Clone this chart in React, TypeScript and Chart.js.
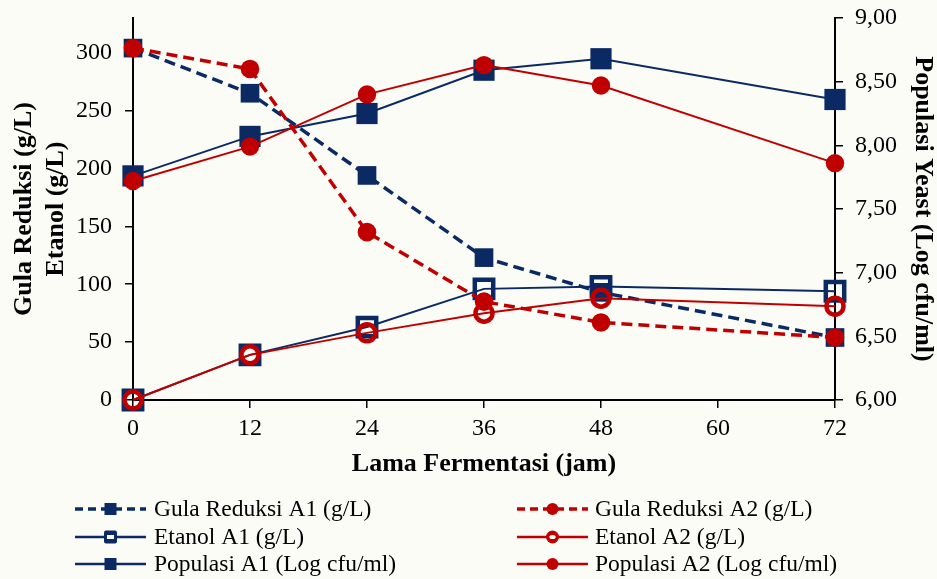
import React, { useEffect, useRef } from 'react';
import { Chart, registerables } from 'chart.js';

Chart.register(...registerables);

// ---- data ----
const hours = [0, 12, 24, 36, 48, 72];
const gulaReduksiA1 = [304, 265, 194, 123, 93, 54];
const gulaReduksiA2 = [304, 286, 145, 85, 67, 54];
const etanolA1 = [0, 39, 63, 96, 98, 94];
const etanolA2 = [0, 39, 58, 75, 88, 81];
const populasiA1 = [7.76, 8.07, 8.25, 8.59, 8.68, 8.36];
const populasiA2 = [7.72, 7.99, 8.4, 8.63, 8.47, 7.86];

const xTickValues = [0, 12, 24, 36, 48, 60, 72];
const leftTickValues = [0, 50, 100, 150, 200, 250, 300];
const rightTickValues = [6, 6.5, 7, 7.5, 8, 8.5, 9];

const seriesLabels = [
  'Gula Reduksi A1 (g/L)',
  'Etanol A1 (g/L)',
  'Populasi A1 (Log cfu/ml)',
  'Gula Reduksi A2 (g/L)',
  'Etanol A2 (g/L)',
  'Populasi A2 (Log cfu/ml)',
];
const xTitle = 'Lama Fermentasi (jam)';
const leftTitle = ['Gula Reduksi (g/L)', 'Etanol (g/L)'];
const rightTitle = 'Populasi Yeast (Log cfu/ml)';

// ---- styles ----
const BLUE = '#0B2A64';
const RED = '#C00000';
const BG = '#FCFCF7';
const FONT = '"Liberation Serif", "Times New Roman", serif';

const pts = (ys: number[]) => hours.map((h, i) => ({ x: h, y: ys[i] }));

type MarkerType = 'square' | 'hollowSquare' | 'circle' | 'hollowCircle';
const legendSpec: { color: string; dashed: boolean; marker: MarkerType }[] = [
  { color: BLUE, dashed: true, marker: 'square' },
  { color: BLUE, dashed: false, marker: 'hollowSquare' },
  { color: BLUE, dashed: false, marker: 'square' },
  { color: RED, dashed: true, marker: 'circle' },
  { color: RED, dashed: false, marker: 'hollowCircle' },
  { color: RED, dashed: false, marker: 'circle' },
];

function drawLegendMarker(ctx: CanvasRenderingContext2D, type: MarkerType, x: number, y: number, color: string) {
  ctx.save();
  ctx.setLineDash([]);
  ctx.fillStyle = color;
  ctx.strokeStyle = color;
  if (type === 'square') {
    ctx.fillRect(x - 6, y - 6, 12, 12);
  } else if (type === 'hollowSquare') {
    ctx.beginPath();
    const s = 13;
    const r = 2;
    const l = x - s / 2;
    const t = y - s / 2;
    ctx.moveTo(l + r, t);
    ctx.arcTo(l + s, t, l + s, t + s, r);
    ctx.arcTo(l + s, t + s, l, t + s, r);
    ctx.arcTo(l, t + s, l, t, r);
    ctx.arcTo(l, t, l + s, t, r);
    ctx.closePath();
    ctx.fill();
    ctx.fillStyle = BG;
    ctx.fillRect(x - 3.5, y - 2, 7, 4);
  } else if (type === 'circle') {
    ctx.beginPath();
    ctx.arc(x, y, 6, 0, Math.PI * 2);
    ctx.fill();
  } else {
    ctx.beginPath();
    ctx.arc(x, y, 6.5, 0, Math.PI * 2);
    ctx.fill();
    ctx.fillStyle = BG;
    ctx.beginPath();
    ctx.ellipse(x, y, 3.2, 2, 0, 0, Math.PI * 2);
    ctx.fill();
  }
  ctx.restore();
}

const backgroundPlugin = {
  id: 'bg',
  beforeDraw(chart: any) {
    const { ctx, width, height } = chart;
    ctx.save();
    ctx.fillStyle = BG;
    ctx.fillRect(0, 0, width, height);
    ctx.restore();
  },
};

const legendPlugin = {
  id: 'customLegend',
  afterDraw(chart: any) {
    const ctx: CanvasRenderingContext2D = chart.ctx;
    const cols = [{ x1: 75, x2: 146, text: 154 }, { x1: 517, x2: 588, text: 595 }];
    const rows = [509, 537, 564];
    legendSpec.forEach((spec, i) => {
      const col = cols[Math.floor(i / 3)];
      const y = rows[i % 3];
      ctx.save();
      ctx.strokeStyle = spec.color;
      if (spec.dashed) {
        ctx.lineWidth = 3.5;
        ctx.setLineDash([8, 5]);
      } else {
        ctx.lineWidth = 2.5;
        ctx.setLineDash([]);
      }
      ctx.beginPath();
      ctx.moveTo(col.x1, y);
      ctx.lineTo(col.x2, y);
      ctx.stroke();
      ctx.restore();
      drawLegendMarker(ctx, spec.marker, (col.x1 + col.x2) / 2, y, spec.color);
      ctx.save();
      ctx.fillStyle = '#000';
      ctx.font = `23.5px ${FONT}`;
      ctx.textAlign = 'left';
      ctx.textBaseline = 'middle';
      ctx.fillText(seriesLabels[i], col.text, y + 1);
      ctx.restore();
    });
  },
};

export default function App() {
  const ref = useRef<HTMLCanvasElement | null>(null);

  useEffect(() => {
    if (!ref.current) return;
    const gridOpts = {
      drawOnChartArea: false,
      drawTicks: true,
      tickLength: 8,
      color: '#000',
      lineWidth: 1.5,
    };
    const borderOpts = { display: true, color: '#000', width: 2 };
    const chart = new Chart(ref.current, {
      type: 'line',
      data: {
        datasets: [
          {
            label: seriesLabels[4],
            data: pts(etanolA2),
            yAxisID: 'y',
            borderColor: RED,
            borderWidth: 2,
            pointStyle: 'circle',
            pointRadius: 8.5,
            pointBorderWidth: 4.5,
            pointBorderColor: RED,
            pointBackgroundColor: 'rgba(0,0,0,0)',
            order: 0,
            clip: false,
          },
          {
            label: seriesLabels[5],
            data: pts(populasiA2),
            yAxisID: 'y1',
            borderColor: RED,
            borderWidth: 2,
            pointStyle: 'circle',
            pointRadius: 9.2,
            pointBorderWidth: 0,
            pointBackgroundColor: RED,
            order: 1,
            clip: false,
          },
          {
            label: seriesLabels[3],
            data: pts(gulaReduksiA2),
            yAxisID: 'y',
            borderColor: RED,
            borderWidth: 3.5,
            borderDash: [11, 6],
            pointStyle: 'circle',
            pointRadius: 9.3,
            pointBorderWidth: 0,
            pointBackgroundColor: RED,
            order: 2,
            clip: false,
          },
          {
            label: seriesLabels[1],
            data: pts(etanolA1),
            yAxisID: 'y',
            borderColor: BLUE,
            borderWidth: 2,
            pointStyle: 'rect',
            pointRadius: 13,
            pointBorderWidth: 4.5,
            pointBorderColor: BLUE,
            pointBackgroundColor: 'rgba(0,0,0,0)',
            order: 3,
            clip: false,
          },
          {
            label: seriesLabels[2],
            data: pts(populasiA1),
            yAxisID: 'y1',
            borderColor: BLUE,
            borderWidth: 2,
            pointStyle: 'rect',
            pointRadius: 15,
            pointBorderWidth: 0,
            pointBackgroundColor: BLUE,
            order: 4,
            clip: false,
          },
          {
            label: seriesLabels[0],
            data: pts(gulaReduksiA1),
            yAxisID: 'y',
            borderColor: BLUE,
            borderWidth: 3.5,
            borderDash: [11, 6],
            pointStyle: 'rect',
            pointRadius: 13.2,
            pointBorderWidth: 0,
            pointBackgroundColor: BLUE,
            order: 5,
            clip: false,
          },
        ] as any,
      },
      options: {
        responsive: false,
        animation: false,
        maintainAspectRatio: false,
        layout: { padding: { top: 18, bottom: 99, left: 0, right: 0 } },
        plugins: {
          legend: { display: false },
          tooltip: { enabled: false },
        },
        elements: { line: { tension: 0 } },
        scales: {
          x: {
            type: 'linear',
            position: 'bottom',
            min: 0,
            max: 72,
            bounds: 'data',
            afterBuildTicks: (s: any) => {
              s.ticks = xTickValues.map((v) => ({ value: v }));
            },
            afterFit: (s: any) => {
              s.height = 80;
              s.paddingLeft = 0;
              s.paddingRight = 0;
            },
            grid: gridOpts,
            border: borderOpts,
            ticks: {
              font: { family: FONT, size: 24 },
              color: '#000',
              padding: 6,
              maxRotation: 0,
              autoSkip: false,
            },
            title: {
              display: true,
              text: xTitle,
              color: '#000',
              font: { family: FONT, size: 26, weight: 'bold', lineHeight: 1.2 },
              padding: { top: 0, bottom: 0 },
            },
          },
          y: {
            type: 'linear',
            position: 'left',
            min: 0,
            max: 330,
            bounds: 'data',
            afterBuildTicks: (s: any) => {
              s.ticks = leftTickValues.map((v) => ({ value: v }));
            },
            afterFit: (s: any) => {
              s.width = 133;
              s.paddingTop = 0;
              s.paddingBottom = 0;
            },
            grid: gridOpts,
            border: borderOpts,
            ticks: {
              font: { family: FONT, size: 24 },
              color: '#000',
              padding: 13,
              autoSkip: false,
            },
            title: {
              display: true,
              text: leftTitle,
              color: '#000',
              font: { family: FONT, size: 26, weight: 'bold', lineHeight: 1.2 },
              padding: { top: 9, bottom: 0 },
            },
          },
          y1: {
            type: 'linear',
            position: 'right',
            min: 6,
            max: 9,
            bounds: 'data',
            afterBuildTicks: (s: any) => {
              s.ticks = rightTickValues.map((v) => ({ value: v }));
            },
            afterFit: (s: any) => {
              s.width = 102;
              s.paddingTop = 0;
              s.paddingBottom = 0;
            },
            grid: gridOpts,
            border: borderOpts,
            ticks: {
              font: { family: FONT, size: 24 },
              color: '#000',
              padding: 12,
              autoSkip: false,
              callback: (v: any) => Number(v).toFixed(2).replace('.', ','),
            },
            title: {
              display: true,
              text: rightTitle,
              color: '#000',
              font: { family: FONT, size: 26, weight: 'bold', lineHeight: 1.1 },
              padding: { top: 0, bottom: 0 },
            },
          },
        },
      } as any,
      plugins: [backgroundPlugin, legendPlugin],
    });
    return () => chart.destroy();
  }, []);

  return (
    <div style={{ position: 'fixed', left: 0, top: 0, width: 937, height: 579, background: BG }}>
      <canvas ref={ref} width={937} height={579} style={{ width: 937, height: 579, display: 'block' }} />
    </div>
  );
}
